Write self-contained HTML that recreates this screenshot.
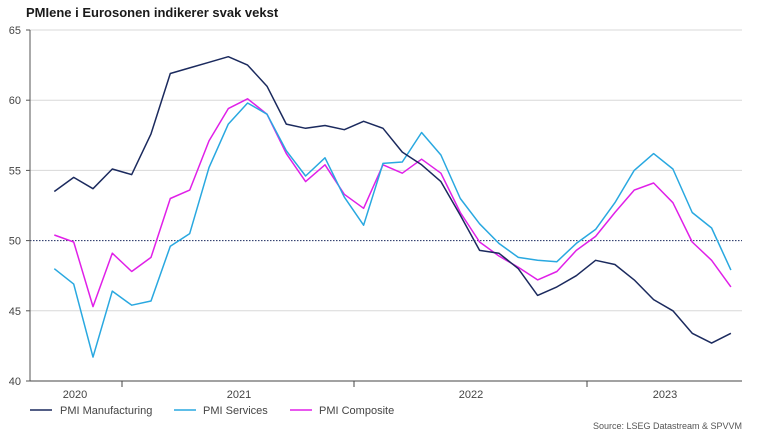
<!DOCTYPE html>
<html><head><meta charset="utf-8"><style>
body{margin:0;background:#fff;font-family:"Liberation Sans",sans-serif;}
svg text{font-family:"Liberation Sans",sans-serif;}
</style></head><body>
<svg id="c" width="758" height="435" xmlns="http://www.w3.org/2000/svg">
<text x="26" y="17" font-size="13" font-weight="bold" fill="#1a1a1a">PMIene i Eurosonen indikerer svak vekst</text>
<g id="grid"></g>
<g id="series"></g>
<g font-size="11" fill="#444">
<text x="75" y="398" text-anchor="middle">2020</text>
<text x="239" y="398" text-anchor="middle">2021</text>
<text x="471" y="398" text-anchor="middle">2022</text>
<text x="665" y="398" text-anchor="middle">2023</text>
</g>
<g font-size="11" fill="#444">
<line x1="30" y1="410" x2="52" y2="410" stroke="#1b2a5e" stroke-width="1.6"/><text x="60" y="414">PMI Manufacturing</text>
<line x1="174" y1="410" x2="196" y2="410" stroke="#29a8e0" stroke-width="1.6"/><text x="203" y="414">PMI Services</text>
<line x1="290" y1="410" x2="312" y2="410" stroke="#e020e8" stroke-width="1.6"/><text x="319" y="414">PMI Composite</text>
</g>
<text x="742" y="429" font-size="9" fill="#555" text-anchor="end">Source: LSEG Datastream &amp; SPVVM</text>
</svg>
<script>
var NS="http://www.w3.org/2000/svg";
function y(v){return 30+(65-v)*14.04;}
function x(i){return 122+(i-4+0.5)*19.33;}
var g=document.getElementById('grid'),s=document.getElementById('series');
function el(p,t,a){var e=document.createElementNS(NS,t);for(var k in a)e.setAttribute(k,a[k]);p.appendChild(e);return e;}
[40,45,50,55,60,65].forEach(function(v){
 if(v==50) el(g,'line',{x1:30,x2:742,y1:y(v),y2:y(v),stroke:'#1b2a5e','stroke-width':1,'stroke-dasharray':'1.5,1.5'});
 else if(v!=40) el(g,'line',{x1:30,x2:742,y1:y(v),y2:y(v),stroke:'#d8d8d8','stroke-width':1});
 el(g,'line',{x1:26,x2:30,y1:y(v),y2:y(v),stroke:'#555'});
 var t=el(g,'text',{x:21,y:y(v)+4,'font-size':11,fill:'#444','text-anchor':'end'});t.textContent=v;
});
el(g,'line',{x1:30,x2:30,y1:30,y2:381,stroke:'#555'});
el(g,'line',{x1:30,x2:742,y1:381,y2:381,stroke:'#444'});
[122,354,587].forEach(function(v){el(g,'line',{x1:v,x2:v,y1:381,y2:387,stroke:'#444'});});
var M=[53.5,54.5,53.7,55.1,54.7,57.6,61.9,62.3,62.7,63.1,62.5,61.0,58.3,58.0,58.2,57.9,58.5,58.0,56.3,55.4,54.2,51.8,49.3,49.1,48.0,46.1,46.7,47.5,48.6,48.3,47.2,45.8,45.0,43.4,42.7,43.4];
var S=[48.0,46.9,41.7,46.4,45.4,45.7,49.6,50.5,55.2,58.3,59.8,59.0,56.4,54.6,55.9,53.1,51.1,55.5,55.6,57.7,56.1,53.0,51.2,49.8,48.8,48.6,48.5,49.8,50.8,52.7,55.0,56.2,55.1,52.0,50.9,47.9];
var C=[50.4,49.9,45.3,49.1,47.8,48.8,53.0,53.6,57.1,59.4,60.1,59.0,56.2,54.2,55.4,53.3,52.3,55.4,54.8,55.8,54.8,52.0,49.9,48.9,48.1,47.2,47.8,49.3,50.3,52.0,53.6,54.1,52.7,49.9,48.6,46.7];
[[C,'#e020e8'],[S,'#29a8e0'],[M,'#1b2a5e']].forEach(function(d){
 el(s,'polyline',{points:d[0].map(function(v,i){return x(i).toFixed(1)+','+y(v).toFixed(1);}).join(' '),fill:'none',stroke:d[1],'stroke-width':1.5,'stroke-linejoin':'round'});
});
</script>
</body></html>
